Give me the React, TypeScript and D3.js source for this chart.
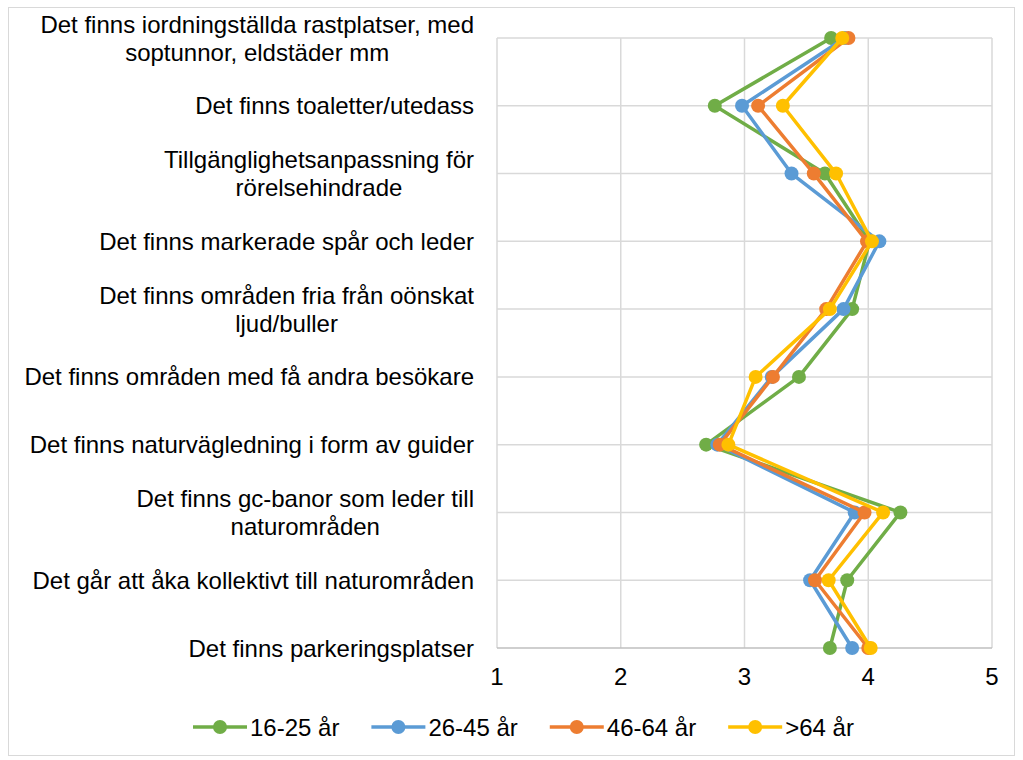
import React, { useEffect, useRef } from "react";
import * as d3 from "d3";

const categories = [
  "Det finns iordningställda rastplatser, med\nsoptunnor, eldstäder mm",
  "Det finns toaletter/utedass",
  "Tillgänglighetsanpassning för\nrörelsehindrade",
  "Det finns markerade spår och leder",
  "Det finns områden fria från oönskat\nljud/buller",
  "Det finns områden med få andra besökare",
  "Det finns naturvägledning i form av guider",
  "Det finns gc-banor som leder till\nnaturområden",
  "Det går att åka kollektivt till naturområden",
  "Det finns parkeringsplatser",
];

const seriesNames = ["16-25 år", "26-45 år", "46-64 år", ">64 år"];
const seriesColors = ["#70AD47", "#5B9BD5", "#ED7D31", "#FFC000"];

const s16_25 = [3.70, 2.76, 3.65, 4.01, 3.87, 3.44, 2.69, 4.26, 3.83, 3.69];
const s26_45 = [3.81, 2.98, 3.38, 4.09, 3.80, 3.22, 2.78, 3.89, 3.53, 3.87];
const s46_64 = [3.84, 3.11, 3.56, 3.99, 3.66, 3.23, 2.80, 3.97, 3.57, 4.00];
const s64plus = [3.79, 3.31, 3.74, 4.03, 3.69, 3.09, 2.87, 4.12, 3.68, 4.02];

const xTicks = [1, 2, 3, 4, 5];

export default function App() {
  const ref = useRef<SVGSVGElement | null>(null);

  useEffect(() => {
    const svg = d3.select(ref.current);
    svg.selectAll("*").remove();
    const font = "Liberation Sans, Arial, sans-serif";
    const fs = 24;

    const x = d3.scaleLinear().domain([1, 5]).range([497, 992]);
    const y = d3.scalePoint<string>().domain(categories).range([38, 648]);

    // chart border
    svg.append("rect").attr("x", 8.5).attr("y", 7.5).attr("width", 1006).attr("height", 748)
      .attr("fill", "white").attr("stroke", "#D9D9D9").attr("stroke-width", 1);

    // gridlines
    const grid = svg.append("g");
    categories.slice(0, -1).forEach((c) => {
      grid.append("line").attr("x1", x(1)).attr("x2", x(5)).attr("y1", y(c)!).attr("y2", y(c)!)
        .attr("stroke", "#D9D9D9").attr("stroke-width", 1.5);
    });
    xTicks.forEach((t) => {
      grid.append("line").attr("x1", x(t)).attr("x2", x(t)).attr("y1", y(categories[0])!).attr("y2", y(categories[categories.length - 1])!)
        .attr("stroke", "#D9D9D9").attr("stroke-width", 1.5);
    });
    // bottom axis
    const yb = y(categories[categories.length - 1])!;
    grid.append("line").attr("x1", x(1)).attr("x2", x(5)).attr("y1", yb).attr("y2", yb)
      .attr("stroke", "#BFBFBF").attr("stroke-width", 1.5);

    // x tick labels
    xTicks.forEach((t) => {
      svg.append("text").attr("x", x(t)).attr("y", 676).attr("text-anchor", "middle")
        .attr("dominant-baseline", "central").attr("font-family", font).attr("font-size", fs)
        .attr("fill", "#000").text(String(t));
    });

    // category labels
    const labelRight = 474;
    const lineH = 28;
    categories.forEach((c) => {
      const lines = c.split("\n");
      const g = svg.append("g");
      const texts = lines.map((ln, i) =>
        g.append("text").attr("y", y(c)! + (i - (lines.length - 1) / 2) * lineH)
          .attr("dominant-baseline", "central").attr("text-anchor", "middle")
          .attr("font-family", font).attr("font-size", fs).attr("fill", "#000").text(ln)
      );
      const maxW = d3.max(texts, (t) => (t.node() as SVGTextElement).getComputedTextLength()) || 0;
      texts.forEach((t) => t.attr("x", labelRight - maxW / 2));
    });

    // series
    const allSeries = [s16_25, s26_45, s46_64, s64plus];
    const line = d3.line<number>().x((d) => x(d)).y((_, i) => y(categories[i])!);
    allSeries.forEach((s, si) => {
      const g = svg.append("g");
      g.append("path").attr("d", line(s)!).attr("fill", "none").attr("stroke", seriesColors[si])
        .attr("stroke-width", 3.5).attr("stroke-linejoin", "round");
      g.selectAll("circle").data(s).join("circle")
        .attr("cx", (d) => x(d)).attr("cy", (_, i) => y(categories[i])!).attr("r", 7)
        .attr("fill", seriesColors[si]);
    });

    // legend
    const ly = 727;
    let lx = 193;
    seriesNames.forEach((name, i) => {
      const g = svg.append("g");
      g.append("line").attr("x1", lx).attr("x2", lx + 54).attr("y1", ly).attr("y2", ly)
        .attr("stroke", seriesColors[i]).attr("stroke-width", 3.5);
      g.append("circle").attr("cx", lx + 27).attr("cy", ly).attr("r", 7).attr("fill", seriesColors[i]);
      const t = g.append("text").attr("x", lx + 57).attr("y", ly).attr("dominant-baseline", "central")
        .attr("font-family", font).attr("font-size", fs).attr("fill", "#000").text(name);
      const w = (t.node() as SVGTextElement).getComputedTextLength();
      lx = lx + 57 + w + 32;
    });
  }, []);

  return (
    <svg ref={ref} width={1023} height={760}
      style={{ position: "absolute", left: 0, top: 0, display: "block", background: "white" }} />
  );
}
